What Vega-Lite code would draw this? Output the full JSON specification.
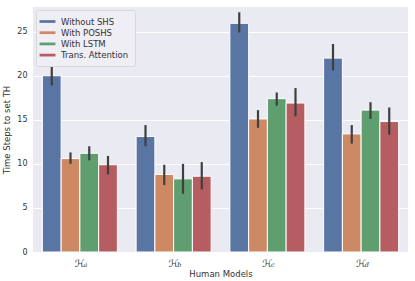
{
  "$schema": "https://vega.github.io/schema/vega-lite/v6.json",
  "width": 375,
  "height": 245,
  "autosize": "none",
  "padding": {"left": 33, "top": 7, "right": 7, "bottom": 29},
  "background": "white",
  "config": {
    "view": {"fill": "#EAEAF2", "stroke": null},
    "font": "DejaVu Sans",
    "axis": {"domain": false, "ticks": false, "labelColor": "#333333", "titleColor": "#333333", "titleFontWeight": "normal", "labelFontSize": 8, "titleFontSize": 8.5, "gridColor": "white", "gridWidth": 1}
  },
  "data": {
    "values": [
      {"model": "a", "method": "Without SHS", "mean": 20.0, "lo": 18.9, "hi": 21.0},
      {"model": "a", "method": "With POSHS", "mean": 10.6, "lo": 10.0, "hi": 11.3},
      {"model": "a", "method": "With LSTM", "mean": 11.2, "lo": 10.4, "hi": 12.0},
      {"model": "a", "method": "Trans. Attention", "mean": 9.9, "lo": 8.8, "hi": 10.9},
      {"model": "b", "method": "Without SHS", "mean": 13.1, "lo": 12.0, "hi": 14.4},
      {"model": "b", "method": "With POSHS", "mean": 8.8, "lo": 7.6, "hi": 9.9},
      {"model": "b", "method": "With LSTM", "mean": 8.3, "lo": 6.6, "hi": 10.0},
      {"model": "b", "method": "Trans. Attention", "mean": 8.6, "lo": 7.1, "hi": 10.2},
      {"model": "c", "method": "Without SHS", "mean": 25.95, "lo": 24.9, "hi": 27.2},
      {"model": "c", "method": "With POSHS", "mean": 15.1, "lo": 14.1, "hi": 16.1},
      {"model": "c", "method": "With LSTM", "mean": 17.4, "lo": 16.6, "hi": 18.1},
      {"model": "c", "method": "Trans. Attention", "mean": 16.9, "lo": 15.4, "hi": 18.6},
      {"model": "d", "method": "Without SHS", "mean": 22.0, "lo": 20.6, "hi": 23.6},
      {"model": "d", "method": "With POSHS", "mean": 13.4, "lo": 12.3, "hi": 14.4},
      {"model": "d", "method": "With LSTM", "mean": 16.1, "lo": 15.1, "hi": 17.0},
      {"model": "d", "method": "Trans. Attention", "mean": 14.8, "lo": 13.3, "hi": 16.4}
    ]
  },
  "layer": [
    {
      "mark": {"type": "bar", "stroke": "white", "strokeWidth": 1},
      "encoding": {
        "x": {"field": "model", "type": "nominal", "sort": ["a", "b", "c", "d"],
          "scale": {"paddingInner": 0.2, "paddingOuter": 0.1},
          "axis": {"labelExpr": "'ℋ'", "labelFont": "DejaVu Sans", "labelFontStyle": "italic", "labelFontSize": 10, "labelDx": -3, "labelAngle": 0, "labelPadding": 6, "title": "Human Models", "titlePadding": 1, "orient": "bottom"}},
        "xOffset": {"field": "method", "type": "nominal", "sort": ["Without SHS", "With POSHS", "With LSTM", "Trans. Attention"], "scale": {"paddingInner": 0, "paddingOuter": 0}},
        "y": {"field": "mean", "type": "quantitative", "scale": {"domain": [0, 27.8], "nice": false},
          "axis": {"values": [0, 5, 10, 15, 20, 25], "title": "Time Steps to set TH", "titlePadding": 5, "labelPadding": 6}},
        "color": {"field": "method", "type": "nominal", "sort": ["Without SHS", "With POSHS", "With LSTM", "Trans. Attention"],
          "scale": {"range": ["#5975a4", "#cc8963", "#5f9e6e", "#b55d60"]},
          "legend": {"title": null, "orient": "top-left", "offset": 3, "labelFontSize": 8.5, "labelColor": "#333333",
            "symbolType": "M-1.45,-0.25H1.45V0.25H-1.45Z", "symbolSize": 120, "symbolStrokeWidth": 0,
            "fillColor": "#EEEEF4", "strokeColor": "#d8d8d8", "cornerRadius": 2, "padding": 6, "rowPadding": 1.2, "labelOffset": 8}}
      }
    },
    {
      "mark": {"type": "rule", "color": "#3f3f3f", "strokeWidth": 2.2},
      "encoding": {
        "x": {"field": "model", "type": "nominal", "sort": ["a", "b", "c", "d"]},
        "xOffset": {"field": "method", "type": "nominal", "sort": ["Without SHS", "With POSHS", "With LSTM", "Trans. Attention"]},
        "y": {"field": "lo", "type": "quantitative"},
        "y2": {"field": "hi"}
      }
    },
    {
      "transform": [{"filter": "datum.method === 'Without SHS'"}],
      "mark": {"type": "text", "font": "DejaVu Serif", "fontStyle": "italic", "fontSize": 6.5, "color": "#333333", "align": "left", "dx": 3.5, "baseline": "alphabetic", "clip": false},
      "encoding": {
        "x": {"field": "model", "type": "nominal", "sort": ["a", "b", "c", "d"]},
        "y": {"datum": -1.75},
        "text": {"field": "model"}
      }
    }
  ]
}
